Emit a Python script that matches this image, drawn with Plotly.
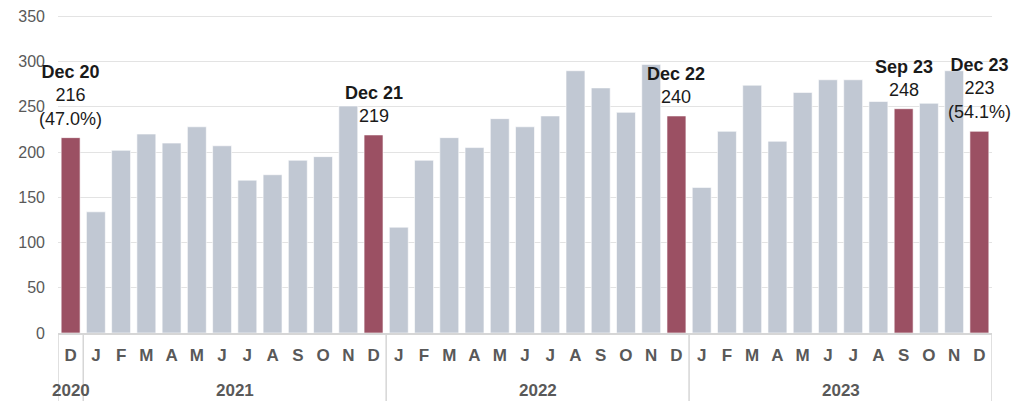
import plotly.graph_objects as go

# ---- data ----
months = ["D"] + ["J", "F", "M", "A", "M", "J", "J", "A", "S", "O", "N", "D"] * 3
years = ["2020"] + ["2021"] * 12 + ["2022"] * 12 + ["2023"] * 12
values = [216,
          134, 202, 220, 210, 228, 207, 169, 175, 191, 195, 251, 219,
          117, 191, 216, 205, 237, 228, 240, 290, 271, 244, 297, 240,
          161, 223, 274, 212, 266, 280, 280, 256, 248, 254, 290, 223]
highlight_idx = [0, 12, 24, 33, 36]
highlight_title = ["Dec 20", "Dec 21", "Dec 22", "Sep 23", "Dec 23"]
highlight_pct = ["(47.0%)", "", "", "", "(54.1%)"]
y_ticks = [0, 50, 100, 150, 200, 250, 300, 350]

GRAY = "#C1C8D3"
MAROON = "#9B5063"
GRID = "#E3E3E3"
FONT = "Liberation Sans, Arial, sans-serif"

x = list(range(len(values)))
colors = [MAROON if i in highlight_idx else GRAY for i in x]

fig = go.Figure()
fig.add_trace(go.Bar(
    x=x, y=values,
    marker=dict(color=colors, line=dict(color="rgba(255,255,255,0.6)", width=1)),
    hoverinfo="skip",
))

# labels above highlighted bars
for i, t, p in zip(highlight_idx, highlight_title, highlight_pct):
    txt = f"<b>{t}</b><br>{values[i]}"
    if p:
        txt += f"<br>{p}"
    fig.add_annotation(
        x=i, y=values[i], xref="x", yref="y",
        text=txt, showarrow=False, yanchor="bottom", xanchor="center",
        yshift=7, align="center",
        font=dict(family=FONT, size=18, color="#1a1a1a"),
    )

# year group labels and dividers
groups = []
for i, yv in enumerate(years):
    if not groups or groups[-1][0] != yv:
        groups.append([yv, i, i])
    else:
        groups[-1][2] = i

bounds = set()
for yv, a, b in groups:
    fig.add_annotation(
        x=(a + b) / 2, y=0, xref="x", yref="paper", yshift=-57,
        text=f"<b>{yv}</b>", showarrow=False, yanchor="middle",
        font=dict(family=FONT, size=17, color="#595959"),
    )
    bounds.add(a - 0.5)
    bounds.add(b + 0.5)

for bx in sorted(bounds):
    fig.add_shape(
        type="line", xref="x", yref="paper",
        x0=bx, x1=bx, y0=0, y1=-0.3,
        line=dict(color="#D6D6D6", width=1.5),
    )

# top gridline (plotly skips a gridline sitting on the plot edge)
fig.add_shape(
    type="line", xref="paper", yref="y", layer="below",
    x0=0, x1=1, y0=y_ticks[-1], y1=y_ticks[-1],
    line=dict(color=GRID, width=1.2),
)

# page body has an 8px default margin, so size the figure to fit the window
fig.update_layout(
    width=1023, height=393,
    margin=dict(l=50, r=39, t=8, b=68, autoexpand=False),
    plot_bgcolor="white", paper_bgcolor="white",
    showlegend=False, bargap=0.25,
    font=dict(family=FONT),
)
fig.update_xaxes(
    tickmode="array", tickvals=x, ticktext=[f"<b>{m}</b>" for m in months],
    range=[-0.5, len(values) - 0.5], automargin=False,
    tickfont=dict(family=FONT, size=17, color="#595959"),
    showgrid=False, showline=True, linecolor="#D6D6D6", linewidth=1.5,
    ticks="", ticklabelstandoff=6, zeroline=False,
)
fig.update_yaxes(
    range=[0, 350.5], tickvals=y_ticks, automargin=False,
    tickfont=dict(family=FONT, size=16, color="#595959"),
    gridcolor=GRID, gridwidth=1.2, zeroline=False,
    ticks="", ticklabelstandoff=12,
)

fig.write_html("out.html")
